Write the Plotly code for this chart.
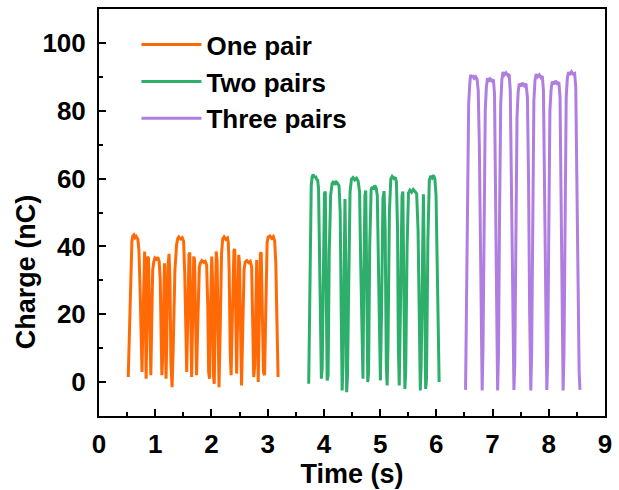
import plotly.graph_objects as go

# Transferred charge traces for one, two and three electrode pairs
one_t = [0.520, 0.540, 0.565, 0.585, 0.600, 0.620, 0.640, 0.660, 0.690, 0.710, 0.730, 0.750, 0.765, 0.780,
         0.800, 0.812, 0.825, 0.838, 0.850, 0.866, 0.880, 0.895, 0.910, 0.922, 0.935, 0.955, 0.975, 0.995,
         1.020, 1.045, 1.070, 1.090, 1.105, 1.118, 1.130, 1.150, 1.165, 1.178, 1.192, 1.205, 1.225, 1.246,
         1.262, 1.280, 1.300, 1.320, 1.350, 1.380, 1.400, 1.420, 1.450, 1.480, 1.505, 1.525, 1.545, 1.560,
         1.580, 1.600, 1.615, 1.632, 1.648, 1.665, 1.685, 1.700, 1.718, 1.735, 1.755, 1.785, 1.805, 1.830,
         1.860, 1.890, 1.915, 1.935, 1.950, 1.965, 1.985, 2.005, 2.020, 2.035, 2.050, 2.065, 2.085, 2.100,
         2.120, 2.135, 2.155, 2.180, 2.200, 2.225, 2.255, 2.285, 2.300, 2.315, 2.335, 2.350, 2.370, 2.400,
         2.415, 2.432, 2.448, 2.465, 2.485, 2.500, 2.520, 2.535, 2.555, 2.580, 2.600, 2.630, 2.660, 2.690,
         2.715, 2.735, 2.752, 2.770, 2.790, 2.805, 2.818, 2.832, 2.848, 2.870, 2.885, 2.905, 2.925, 2.945,
         2.965, 2.990, 3.010, 3.040, 3.070, 3.100, 3.125, 3.145, 3.165, 3.185]
one_q = [1.5, 14, 36, 41.5, 43.0, 43.4, 42.6, 43.0, 42.2, 39, 28, 9, 3, 16,
         37.5, 38.5, 22, 1.0, 14, 37, 36.5, 20, 3.5, 2, 15, 33, 35.5, 36.6,
         36.2, 36.8, 35.6, 30, 14, 2, 6, 30, 35, 20, 1, 12, 34, 37.8,
         30, 5, -1.5, 10, 33, 40.5, 42.3, 42.8, 42.2, 42.6, 41.5, 32, 10, 3,
         20, 37.6, 38.2, 18, 1.5, 18, 37, 36, 14, 2, 16, 34, 35.2, 35.8,
         35.3, 35.6, 34.5, 22, 3, 1, 22, 37, 30, 2, -0.5, 20, 38.5, 36,
         8, -1.5, 15, 38, 42.2, 42.8, 42.1, 42.5, 41.2, 33, 8, 2, 18, 38.8,
         39.2, 20, 2.5, 18, 37.5, 35, 10, -1, 14, 33, 35.4, 35.8, 35.2, 35.6,
         34, 20, 1.5, 5, 30, 36, 22, 0, 16, 37.8, 38.3, 20, 3, 2,
         22, 41, 42.8, 43.1, 42.4, 42.9, 41.5, 35, 18, 1.5]

two_t = [3.730, 3.745, 3.760, 3.775, 3.790, 3.810, 3.830, 3.850, 3.870, 3.890, 3.905, 3.920, 3.940, 3.955,
         3.970, 3.990, 4.010, 4.025, 4.040, 4.058, 4.075, 4.095, 4.120, 4.145, 4.170, 4.195, 4.220, 4.245,
         4.270, 4.290, 4.310, 4.325, 4.340, 4.360, 4.375, 4.390, 4.405, 4.420, 4.440, 4.465, 4.490, 4.520,
         4.550, 4.580, 4.610, 4.635, 4.655, 4.680, 4.695, 4.710, 4.730, 4.745, 4.765, 4.780, 4.795, 4.815,
         4.840, 4.860, 4.880, 4.905, 4.930, 4.950, 4.970, 4.990, 5.005, 5.025, 5.050, 5.070, 5.090, 5.110,
         5.125, 5.140, 5.165, 5.190, 5.215, 5.245, 5.270, 5.290, 5.310, 5.325, 5.340, 5.360, 5.390, 5.405,
         5.425, 5.440, 5.455, 5.480, 5.505, 5.530, 5.560, 5.590, 5.620, 5.650, 5.675, 5.700, 5.715, 5.730,
         5.755, 5.770, 5.790, 5.810, 5.825, 5.850, 5.875, 5.900, 5.925, 5.950, 5.975, 5.995, 6.015, 6.035,
         6.050]
two_q = [-0.5, 20, 48, 58, 60.5, 61.2, 60.2, 60.8, 59.8, 59.5, 57, 40, 12, 1,
         4, 40, 55.5, 56.2, 35, 0.5, 2, 38, 55, 58.5, 59.2, 58.2, 59.0, 58.6,
         57.8, 50, 18, -2.5, 5, 42, 54, 35, -3, 2, 35, 56, 59.8, 60.3,
         59.6, 60.1, 59.2, 56, 35, 5, 1, 30, 55, 56.5, 30, 0, 3, 40,
         56.8, 57.6, 56.8, 58, 57.2, 55, 35, 6, 0.5, 20, 54, 56.3, 45, 5,
         -1, 10, 50, 59.8, 60.6, 60.0, 60.4, 59, 45, 10, -1, 20, 55, 56.2,
         30, -2, 3, 40, 55.8, 56.6, 56.0, 56.8, 56.2, 55.5, 45, 10, -2.5, 5,
         50, 55.4, 30, -2, 1, 42, 59.5, 60.8, 60.2, 61.0, 59.8, 55, 35, 10,
         0]

three_t = [6.520, 6.535, 6.555, 6.575, 6.595, 6.610, 6.630, 6.650, 6.675, 6.700, 6.725, 6.745, 6.765, 6.785,
           6.805, 6.815, 6.830, 6.850, 6.870, 6.890, 6.910, 6.935, 6.960, 6.990, 7.015, 7.035, 7.055, 7.075,
           7.090, 7.105, 7.125, 7.145, 7.165, 7.185, 7.210, 7.240, 7.270, 7.295, 7.315, 7.335, 7.360, 7.380,
           7.395, 7.415, 7.435, 7.455, 7.475, 7.505, 7.535, 7.565, 7.595, 7.620, 7.640, 7.660, 7.680, 7.695,
           7.715, 7.735, 7.755, 7.775, 7.800, 7.830, 7.860, 7.885, 7.905, 7.925, 7.945, 7.965, 7.980, 8.000,
           8.020, 8.040, 8.060, 8.090, 8.120, 8.150, 8.180, 8.200, 8.220, 8.240, 8.255, 8.270, 8.290, 8.310,
           8.330, 8.350, 8.375, 8.405, 8.435, 8.460, 8.480, 8.500, 8.520, 8.540, 8.555]
three_q = [-2.3, 20, 60, 82, 88, 90.6, 89.8, 90.4, 89.6, 90.0, 89.2, 86, 70, 35,
           5, -2.5, 10, 50, 80, 87, 89.6, 88.6, 89.4, 88.8, 89.2, 85, 60, 20,
           -2.5, 8, 50, 82, 89, 91.4, 90.6, 91.2, 90.4, 90.8, 86, 55, 15, -2.3,
           5, 45, 78, 85.5, 88.0, 87.2, 88.2, 87.4, 88.0, 84, 60, 20, -2.5, 8,
           50, 83, 89, 90.8, 90.0, 90.6, 89.8, 90.2, 86, 60, 20, -2.3, 6, 48,
           80, 86, 88.6, 87.8, 88.8, 88.0, 88.4, 84, 55, 15, -2.5, 8, 50, 84,
           89.5, 91.4, 90.6, 91.5, 90.8, 91.0, 87, 60, 25, 3, -2.3]

series_names = ["One pair", "Two pairs", "Three pairs"]
series_colors = ["#FF6A06", "#2DAE6A", "#B07EE0"]

x_ticks = [0, 1, 2, 3, 4, 5, 6, 7, 8, 9]
y_ticks = [0, 20, 40, 60, 80, 100]

FONT = "Liberation Sans, Arial, sans-serif"

fig = go.Figure()
for name, color, t, q in zip(series_names, series_colors,
                             [one_t, two_t, three_t], [one_q, two_q, three_q]):
    fig.add_trace(go.Scatter(x=t, y=q, mode="lines", name=name,
                             line=dict(color=color, width=3)))

axis_common = dict(
    showline=True, linewidth=2, linecolor="black", mirror=True,
    showgrid=False, zeroline=False,
    ticks="inside", ticklen=7, tickwidth=2, tickcolor="black",
    tickfont=dict(family=FONT, size=26, color="black", weight="bold"),
)

fig.update_xaxes(
    range=[0, 9], tickvals=x_ticks, ticktext=[str(v) for v in x_ticks],
    minor=dict(dtick=0.5, tick0=0, ticks="inside", ticklen=4, tickwidth=2, tickcolor="black"),
    title=dict(text="Time (s)", font=dict(family=FONT, size=27, color="black", weight="bold"), standoff=4),
    ticklabelstandoff=4,
    **axis_common,
)
fig.update_yaxes(
    range=[-10, 110], tickvals=y_ticks, ticktext=[str(v) for v in y_ticks],
    minor=dict(dtick=10, tick0=0, ticks="inside", ticklen=4, tickwidth=2, tickcolor="black"),
    ticklabelstandoff=6,
    **axis_common,
)

# Y-axis title placed slightly below the axis midpoint
fig.add_annotation(
    text="Charge (nC)", textangle=-90, showarrow=False,
    xref="paper", yref="paper", x=-0.145, y=0.355,
    xanchor="center", yanchor="middle",
    font=dict(family=FONT, size=27, color="black", weight="bold"),
)

fig.update_layout(
    width=619, height=490,
    margin=dict(l=99, r=7, t=7, b=74),
    plot_bgcolor="white", paper_bgcolor="white",
    showlegend=True,
    legend=dict(x=0.074, y=0.97, xanchor="left", yanchor="top",
                bgcolor="rgba(0,0,0,0)", borderwidth=0,
                itemwidth=60,
                font=dict(family=FONT, size=26, color="black", weight="bold"),
                tracegroupgap=0),
)

fig.write_html("out.html")
